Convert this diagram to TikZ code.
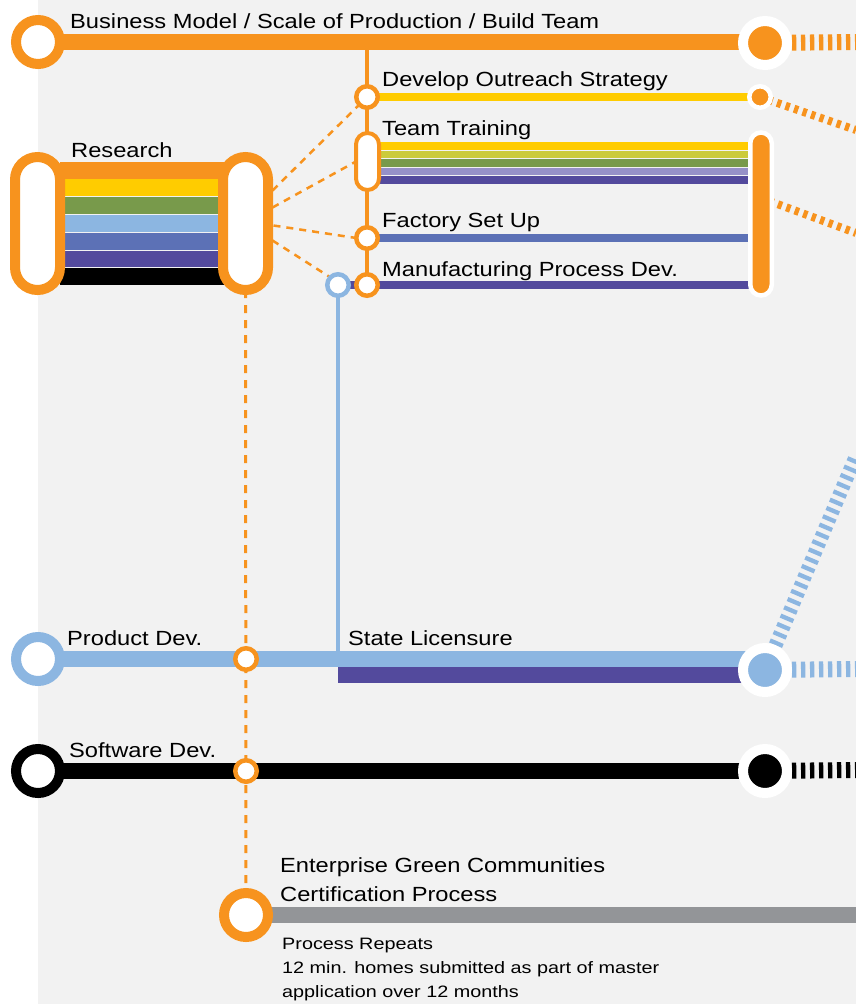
\documentclass[tikz,border=0pt]{standalone}
\usepackage{fontspec}
\setmainfont[FakeStretch=1.155]{Liberation Sans}
\newfontfamily\smallfam[FakeStretch=1.2]{Liberation Sans}
\definecolor{cOr}{HTML}{F7931E}
\definecolor{cYe}{HTML}{FFCC00}
\definecolor{cOl}{HTML}{CBCB3A}
\definecolor{cGr}{HTML}{789A4B}
\definecolor{cLb}{HTML}{8CB6E1}
\definecolor{cBl}{HTML}{5C71B6}
\definecolor{cPu}{HTML}{534A9D}
\definecolor{cLa}{HTML}{9691C8}
\definecolor{cGy}{HTML}{939598}
\definecolor{cBg}{HTML}{F2F2F2}
\pgfdeclarelayer{back}
\pgfdeclarelayer{lines}
\pgfsetlayers{back,lines,main}
\begin{document}
\begin{tikzpicture}[x=1pt,y=-1pt,
  bigring/.style={circle,draw=#1,fill=white,line width=10pt,minimum size=44pt,inner sep=0pt,outer sep=0pt},
  bigend/.style={circle,draw=white,fill=#1,line width=10pt,minimum size=44pt,inner sep=0pt,outer sep=0pt},
  smallring/.style={circle,draw=#1,fill=white,line width=4.5pt,minimum size=21.5pt,inner sep=0pt,outer sep=0pt},
  smallend/.style={circle,draw=white,fill=#1,line width=4.5pt,minimum size=21.5pt,inner sep=0pt,outer sep=0pt},
  mainline/.style={line width=16pt,#1},
  subline/.style={line width=8pt,#1},
  thinline/.style={line width=4pt,#1},
  dashmain/.style={line width=16pt,#1,dash pattern=on 4.3pt off 4.7pt},
  dashsub/.style={line width=8pt,#1,dash pattern=on 4.3pt off 4.7pt},
  orangedash/.style={line width=3pt,cOr,dash pattern=on 8pt off 7pt},
  linkdash/.style={line width=2.5pt,cOr,dash pattern=on 7pt off 6pt},
  lbl/.style={anchor=base west,inner sep=0pt,font=\fontsize{20.5}{24}\selectfont},
  smalllbl/.style={anchor=north west,inner sep=0pt,align=left,font=\smallfam\fontsize{16.5}{24}\selectfont}
]
\useasboundingbox (0,0) rectangle (856,1004);
\begin{pgfonlayer}{back}
\fill[cBg] (38,0) rectangle (856,1004);
\end{pgfonlayer}

% ---------- nodes ----------
\node[bigring=cOr] (biz) at (38,42) {};
\node[bigend=cOr] (bizE) at (765,43) {};
\node[smallring=cOr] (out) at (367,97) {};
\node[smallend=cOr] (outE) at (760,97) {};
\node[draw=cOr,fill=white,line width=4pt,minimum width=23pt,minimum height=57pt,rounded corners=11.5pt,inner sep=0pt,outer sep=0pt] (tt) at (367.5,161.5) {};
\node[draw=white,fill=cOr,line width=4.5pt,minimum width=21.5pt,minimum height=163pt,rounded corners=10.75pt,inner sep=0pt,outer sep=0pt] (ttE) at (761,214) {};
\node[smallring=cOr] (fac) at (367,238) {};
\node[smallring=cOr] (man) at (367,285) {};
\node[smallring=cLb] (lbc) at (338,285) {};
\node[draw=cOr,fill=white,line width=10pt,minimum width=45pt,minimum height=133pt,rounded corners=22.5pt,inner sep=0pt,outer sep=0pt] (resL) at (37.5,223.5) {};
\node[draw=cOr,fill=white,line width=10pt,minimum width=45pt,minimum height=133pt,rounded corners=22.5pt,inner sep=0pt,outer sep=0pt] (resR) at (245.5,223.5) {};
\node[bigring=cLb] (prod) at (38,659) {};
\node[bigend=cLb] (prodE) at (765,670) {};
\node[smallring=cOr] (prodX) at (246,659) {};
\node[bigring=black] (soft) at (38,771) {};
\node[bigend=black] (softE) at (765,771) {};
\node[smallring=cOr] (softX) at (246,771) {};
\node[bigring=cOr] (egc) at (246,915) {};

\coordinate (bizR) at (856,42);
\coordinate (outR) at (856,130);
\coordinate (ttR) at (856,233);
\coordinate (prodR) at (856,669);
\coordinate (prodUp) at (856,456);
\coordinate (softR) at (856,770);
\coordinate (egcR) at (856,915);
\coordinate (ttS) at (761,198);

% ---------- connectors ----------
\begin{pgfonlayer}{lines}
% research bars
\fill[cOr] (60,162) rectangle (228,179);
\fill[cYe] (60,179) rectangle (228,196);
\fill[cGr] (60,197) rectangle (228,214);
\fill[cLb] (60,215) rectangle (228,232);
\fill[cBl] (60,233) rectangle (228,250);
\fill[cPu] (60,251) rectangle (228,267);
\fill[black] (60,268) rectangle (228,285);
% business
\draw[mainline=cOr] (biz.center) -- (biz.center -| bizE.center);
\draw[dashmain=cOr] (bizE.center) -- (bizR);
\draw[thinline=cOr] (biz.center -| man.center) -- (man.center);
% outreach
\draw[subline=cYe] (out.center) -- (outE.center);
\draw[dashsub=cOr] (outE.center) -- (outR);
% team training bars
\fill[cYe] (367,142) rectangle (760,149.5);
\fill[cOl] (367,150.5) rectangle (760,158);
\fill[cGr] (367,159) rectangle (760,166.5);
\fill[cLa] (367,167.5) rectangle (760,175);
\fill[cPu] (367,176) rectangle (760,184);
\draw[dashsub=cOr] (ttS) -- (ttR);
% factory, manufacturing
\draw[subline=cBl] (fac.center) -- (ttE.center |- fac.center);
\draw[subline=cPu] (lbc.center) -- (ttE.center |- man.center);
% research dashed links
\draw[linkdash] (resR.center) ++(27,-33) -- (out.south west);
\draw[linkdash] (resR.center) ++(27,-16) -- (tt.west);
\draw[linkdash] (resR.center) ++(28,2) -- (fac.west);
\draw[linkdash] (resR.center) ++(27,17) -- (lbc.north west);
% vertical dashed from research
\draw[orangedash] (resR.south) -- (egc.center);
% light blue vertical
\draw[thinline=cLb] (lbc.center) -- (lbc.center |- prod.center);
% product
\draw[mainline=cLb] (prod.center) -- (prod.center -| prodE.center);
\fill[cPu] (338,667) rectangle (765,683);
\draw[dashmain=cLb] (prodE.center) -- (prodR);
\draw[line width=14pt,cLb,dash pattern=on 4.3pt off 4.7pt] (prodE.center) -- (prodUp);
% software
\draw[mainline=black] (soft.center) -- (softE.center);
\draw[dashmain=black] (softE.center) -- (softR);
% EGC
\draw[mainline=cGy] (egc.center) -- (egcR);
\end{pgfonlayer}

% ---------- labels ----------
\node[lbl] (tBiz) at (70,28) {Business Model / Scale of Production / Build Team};
\node[lbl] (tOut) at (382,86) {Develop Outreach Strategy};
\node[lbl] (tTT) at (382,135) {Team Training};
\node[lbl] (tFac) at (382,227) {Factory Set Up};
\node[lbl] (tMan) at (382,276) {Manufacturing Process Dev.};
\node[lbl] (tRes) at (71,157) {Research};
\node[lbl] (tProd) at (67,645) {Product Dev.};
\node[lbl] (tLic) at (348,645) {State Licensure};
\node[lbl] (tSoft) at (69,757) {Software Dev.};
\node[lbl] (tEgc1) at (280,872) {Enterprise Green Communities};
\node[lbl] (tEgc2) at (280,901) {Certification Process};
\node[smalllbl] (tRep) at (282,938) {Process Repeats\\12 min. homes submitted as part of master\\application over 12 months};
\end{tikzpicture}
\end{document}
